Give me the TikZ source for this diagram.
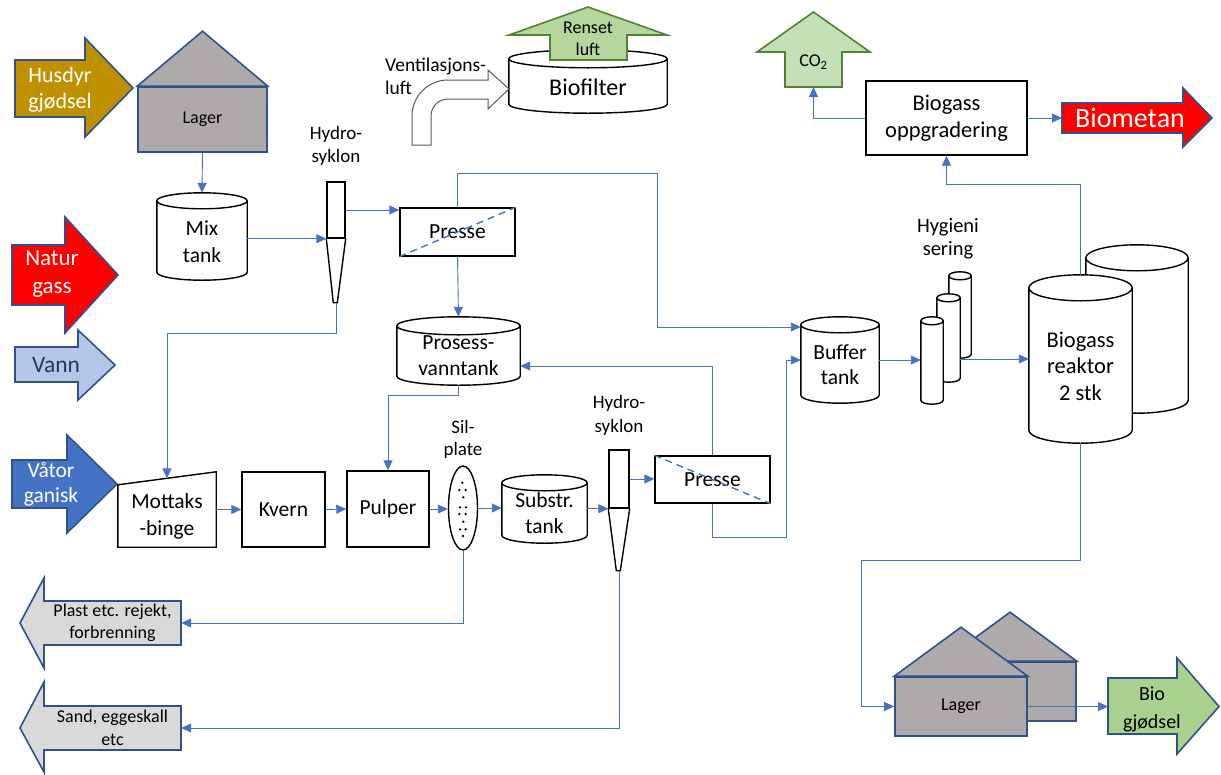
\documentclass[tikz,border=0pt]{standalone}
\usepackage{fontspec}
\setmainfont{Carlito}
\usetikzlibrary{arrows.meta,positioning,calc,backgrounds,shapes.geometric}
\definecolor{edgeblue}{HTML}{2F528F}
\definecolor{flowblue}{HTML}{4472C4}
\definecolor{manure}{HTML}{BF9000}
\definecolor{gasred}{HTML}{FF0000}
\definecolor{waterblue}{HTML}{B4C7E7}
\definecolor{waternavy}{HTML}{1F3864}
\definecolor{organicblue}{HTML}{4472C4}
\definecolor{rejectgray}{HTML}{D9D9D9}
\definecolor{airgreen}{HTML}{B5D69C}
\definecolor{airedge}{HTML}{548235}
\definecolor{co2green}{HTML}{C5E0B4}
\definecolor{fertgreen}{HTML}{A9D18E}
\definecolor{storegray}{HTML}{AEAAAA}
\definecolor{ventgray}{HTML}{595959}
\tikzset{
  stepbox/.style={draw=black, line width=1.4pt, fill=white, align=center, inner sep=0pt},
  tankbox/.style={inner sep=0pt},
  tankline/.style={draw=black, line width=1.4pt, fill=white},
  outline/.style={draw=black, line width=1.4pt},
  house/.style={draw=edgeblue, line width=1.6pt, fill=storegray},
  bigarrow/.style={draw=edgeblue, line width=1.6pt, line join=miter},
  flow/.style={draw=flowblue, line width=0.9pt, -{Triangle[length=10pt,width=9pt]}},
  pressline/.style={draw=flowblue, line width=1.4pt, dash pattern=on 7pt off 5pt},
  txt/.style={align=center, inner sep=0pt, font=\fontsize{21.5}{27}\selectfont},
  labeltxt/.style={align=center, inner sep=0pt, font=\fontsize{18}{23}\selectfont}
}
% cylinder outline round a tank node: name, half height of the end ellipse
\newcommand\tankoutline[2]{%
  \path[tankline] let \p1=(#1.north west), \p2=(#1.south east), \n1={(\x2-\x1)/2} in
    (\x1,\y1-#2pt) -- (\x1,\y2+#2pt)
    arc[start angle=180, end angle=360, x radius=\n1, y radius=#2pt]
    -- (\x2,\y1-#2pt)
    arc[start angle=0, end angle=180, x radius=\n1, y radius=#2pt]
    arc[start angle=180, end angle=360, x radius=\n1, y radius=#2pt];}

\begin{document}
\begin{tikzpicture}[x=1pt, y=-1pt, font=\fontsize{21.5}{27}\selectfont]
  \useasboundingbox (0,0) rectangle (1221,774);

  % tanks
  \node[tankbox, minimum width=90pt, minimum height=87pt] (mix) at (202,236.5) {};
  \node[tankbox, minimum width=123pt, minimum height=68pt] (vanntank) at (458.5,351) {};
  \node[tankbox, minimum width=158pt, minimum height=63pt] (biofilter) at (588,81.5) {};
  \node[tankbox, minimum width=85pt, minimum height=68pt] (substr) at (544.5,509) {};
  \node[tankbox, minimum width=78pt, minimum height=86pt] (buffer) at (840,360) {};
  \node[tankbox, minimum width=22pt, minimum height=86pt] (hyg3) at (960,315) {};
  \node[tankbox, minimum width=23pt, minimum height=88pt] (hyg2) at (948.5,338) {};
  \node[tankbox, minimum width=22pt, minimum height=87pt] (hyg1) at (932,360.5) {};
  \node[tankbox, minimum width=102pt, minimum height=168pt] (reactorB) at (1137,329) {};
  \node[tankbox, minimum width=103pt, minimum height=168pt] (reactor) at (1080.5,359) {};
  \begin{scope}[on background layer]
    \tankoutline{mix}{8}
    \tankoutline{vanntank}{9}
    \tankoutline{biofilter}{9}
    \tankoutline{substr}{8}
    \tankoutline{buffer}{8}
    \tankoutline{hyg3}{4}
    \tankoutline{hyg2}{4}
    \tankoutline{hyg1}{4}
    \tankoutline{reactorB}{13}
    \tankoutline{reactor}{13}
  \end{scope}
  \node[txt] (mix-t) at ($(mix)+(0,5)$) {Mix\\tank};
  \node[txt, font=\fontsize{21.5}{26}\selectfont] (vanntank-t) at ($(vanntank)+(0,4.5)$) {Prosess-\\vanntank};
  \node[txt, font=\fontsize{24}{28}\selectfont] (biofilter-t) at ($(biofilter)+(0,6)$) {Biofilter};
  \node[txt, font=\fontsize{21.5}{26}\selectfont] (substr-t) at ($(substr)+(0,4)$) {Substr.\\tank};
  \node[txt, font=\fontsize{21.5}{25}\selectfont] (buffer-t) at ($(buffer)+(0,5)$) {Buffer\\tank};
  \node[txt, font=\fontsize{22.5}{26.5}\selectfont] (reactor-t) at ($(reactor)+(0,7)$) {Biogass\\reaktor\\2 stk};
  \node[labeltxt, font=\fontsize{20.5}{23}\selectfont] (hyg-t) at (948,239) {Hygieni\\sering};

  % process units
  \node[stepbox, minimum width=18pt, minimum height=56pt] (hc1) at (336,210) {};
  \draw[outline] (hc1.south west) -- ++(7,64) -- ++(4,0) -- (hc1.south east);
  \coordinate (hc1tip) at ($(hc1.south)+(0,64)$);
  \node[labeltxt, font=\fontsize{19}{23}\selectfont] (hc1-t) at (336,146) {Hydro-\\syklon};
  \node[stepbox, minimum width=115pt, minimum height=48pt] (presse1) at (457.5,232) {Presse};
  \draw[pressline] (presse1.south west) -- (presse1.north east);
  \node[txt, minimum width=98pt, minimum height=62pt] (mottak) at (167,516) {Mottaks\\-binge};
  \draw[outline] (mottak.south west) -- (mottak.north west) -- ($(mottak.north east)+(0,-13)$)
    -- (mottak.south east) -- cycle;
  \node[stepbox, minimum width=83pt, minimum height=75pt] (kvern) at (283.5,509.5) {Kvern};
  \node[stepbox, minimum width=82pt, minimum height=76pt] (pulper) at (388,509) {Pulper};
  \node[draw, ellipse, line width=1.4pt, minimum width=29pt, minimum height=84pt, inner sep=0pt] (sil) at (463,508) {};
  \foreach \dx/\dy in {-0.7/-25.3, -3.7/-18, 2.7/-18, 0.3/-10.7, -3/-0.7, 3/-0.7,
                       -3.7/6, 2.7/6, 0.3/13.7, -3/21.3, 2.7/21.3, 0/28}
    \fill ($(sil.center)+(\dx,\dy)$) circle[radius=1.3pt];
  \node[labeltxt, font=\fontsize{19}{22}\selectfont] (sil-t) at (463,439) {Sil-\\plate};
  \node[stepbox, minimum width=20pt, minimum height=58pt] (hc2) at (619,479) {};
  \draw[outline] (hc2.south west) -- ++(8,62) -- ++(4,0) -- (hc2.south east);
  \coordinate (hc2tip) at ($(hc2.south)+(0,62)$);
  \node[labeltxt, font=\fontsize{19}{24}\selectfont] (hc2-t) at (619,415) {Hydro-\\syklon};
  \node[stepbox, minimum width=115pt, minimum height=47pt] (presse2) at (712.5,479.5) {Presse};
  \draw[pressline] (presse2.north west) -- (presse2.south east);
  \node[stepbox, minimum width=161pt, minimum height=74pt, font=\fontsize{22.5}{27}\selectfont] (oppgr) at (946.5,118) {Biogass\\oppgradering};

  % storage houses
  \node[house, minimum width=129pt, minimum height=65pt, inner sep=0pt, font=\fontsize{18}{22}\selectfont] (lagerA) at (202.5,119.5) {Lager};
  \draw[house] (lagerA.north west) -- ($(lagerA.north)+(0,-55)$) -- (lagerA.north east) -- cycle;
  \node[house, minimum width=132pt, minimum height=59pt, inner sep=0pt] (lagerC) at (1010,691.5) {};
  \draw[house] (lagerC.north west) -- ($(lagerC.north)+(0,-49)$) -- (lagerC.north east) -- cycle;
  \node[house, minimum width=132pt, minimum height=59pt, inner sep=0pt, font=\fontsize{18}{22}\selectfont] (lagerB) at (961,706.5) {Lager};
  \draw[house] (lagerB.north west) -- ($(lagerB.north)+(0,-49)$) -- (lagerB.north east) -- cycle;

  % block arrows in and out
  \draw[bigarrow, fill=manure] (15,60) -- (85,60) -- (85,38) -- (133,88) -- (85,137) -- (85,117) -- (15,117) -- cycle;
  \node[txt, text=white, font=\fontsize{22}{26}\selectfont] (husdyr) at (60,90) {Husdyr\\gjødsel};
  \draw[bigarrow, fill=gasred] (12,245) -- (65,245) -- (65,217) -- (118,275) -- (65,333) -- (65,305) -- (12,305) -- cycle;
  \node[txt, text=white, font=\fontsize{23}{28}\selectfont] (natur) at (52,274) {Natur\\gass};
  \draw[bigarrow, fill=waterblue] (15,347) -- (78,347) -- (78,330) -- (115,365) -- (78,400) -- (78,382) -- (15,382) -- cycle;
  \node[txt, text=waternavy, font=\fontsize{23.5}{26}\selectfont] (vann) at (56,365) {Vann};
  \draw[bigarrow, fill=organicblue] (12,460) -- (67,460) -- (67,435) -- (117,484) -- (67,533) -- (67,508) -- (12,508) -- cycle;
  \node[txt, text=white, font=\fontsize{21.5}{25}\selectfont] (vaat) at (51,484) {Våtor\\ganisk};
  \draw[bigarrow, fill=rejectgray] (181,601) -- (44,601) -- (44,578) -- (20,623) -- (44,668) -- (44,645) -- (181,645) -- cycle;
  \node[labeltxt, font=\fontsize{18}{22}\selectfont, minimum width=137pt, minimum height=44pt] (plast) at (112.5,623) {Plast etc. rejekt,\\forbrenning};
  \draw[bigarrow, fill=rejectgray] (181,706) -- (44,706) -- (44,682) -- (20,728) -- (44,772) -- (44,750) -- (181,750) -- cycle;
  \node[labeltxt, font=\fontsize{18}{23}\selectfont, minimum width=137pt, minimum height=44pt] (sand) at (112.5,728) {Sand, eggeskall\\etc};
  \draw[bigarrow, draw=airedge, fill=airgreen] (550,60) -- (550,35) -- (509,35) -- (588,7) -- (667,35) -- (627,35) -- (627,60) -- cycle;
  \node[labeltxt, font=\fontsize{18}{22}\selectfont] (renset) at (588,39) {Renset\\luft};
  \draw[bigarrow, draw=airedge, fill=co2green] (785,87) -- (785,52) -- (757,52) -- (813.5,12) -- (870,52) -- (842,52) -- (842,87) -- cycle;
  \node[labeltxt] (co2) at (813.5,62) {CO\textsubscript{2}};
  \coordinate (co2in) at (813.5,87);
  \draw[bigarrow, fill=gasred] (1062,103) -- (1183,103) -- (1183,88) -- (1212,118) -- (1183,147) -- (1183,133) -- (1062,133) -- cycle;
  \node[txt, text=white, font=\fontsize{28}{32}\selectfont] (biometan) at (1130,118) {Biometan};
  \coordinate (biometanin) at (1062,118);
  \draw[bigarrow, fill=fertgreen] (1108,678) -- (1177,678) -- (1177,658) -- (1219,706.5) -- (1177,754) -- (1177,734) -- (1108,734) -- cycle;
  \node[txt, font=\fontsize{20}{28}\selectfont] (biogj) at (1152,709) {Bio\\gjødsel};
  \coordinate (biogjin) at (1108,706.5);

  % ventilation air
  \draw[draw=ventgray, line width=1pt, fill=white] (412,145) -- (412,116) arc[start angle=180, end angle=90, radius=36pt]
    -- (488,80) -- (488,70) -- (509,89) -- (488,109) -- (488,99) -- (448,99)
    arc[start angle=90, end angle=180, radius=17pt] -- (431,145) -- cycle;
  \node[labeltxt, anchor=west, align=left, font=\fontsize{19.5}{23}\selectfont] (vent) at (385,76.5) {Ventilasjons-\\luft};

  % flows
  \draw[flow] (lagerA.south) -- (mix.north);
  \draw[flow] (mix.east |- hc1.south) -- (hc1.south west);
  \draw[flow] (hc1.east) -- (hc1.east -| presse1.west);
  \draw[flow] (presse1.south) -- (vanntank.north);
  \draw[flow] (presse1.north) -- ++(0,-34) -| ($(buffer.west)+(-143,-33)$) -- ($(buffer.west)+(0,-33)$);
  \draw[flow] (hc1tip) -- ++(0,31) -| ($(mottak.north)+(0,-6.5)$);
  \draw[flow] (mottak.east |- kvern.west) -- (kvern.west);
  \draw[flow] (kvern.east) -- (pulper.west);
  \draw[flow] (vanntank.south) -- ++(0,10) -| (pulper.north);
  \draw[flow] (pulper.east) -- (pulper.east -| sil.west);
  \draw[flow] (sil.east) -- (sil.east -| substr.west);
  \draw[flow] (substr.east |- hc2.south west) -- (hc2.south west);
  \draw[flow] (hc2.east) -- (hc2.east -| presse2.west);
  \draw[flow] (presse2.north) |- ($(vanntank.east)+(0,15)$);
  \draw[flow] (presse2.south) -- ++(0,34) -| ($(buffer.west)+(-14,0)$) -- (buffer.west);
  \draw[flow] (buffer.east) -- (buffer.east -| hyg1.west);
  \draw[flow] (hyg2.east |- reactor.west) -- (reactor.west);
  \draw[flow] (reactor.north) -- ++(0,-90) -| (oppgr.south);
  \draw[flow] (oppgr.west) -| (co2in);
  \draw[flow] (oppgr.east) -- (biometanin);
  \draw[flow] (reactor.south) -- ++(0,117) -| ($(lagerB.west)+(-33,0)$) -- (lagerB.west);
  \draw[flow] (lagerB.east) -- (biogjin);
  \draw[flow] (sil.south) |- (plast.east);
  \draw[flow] (hc2tip) |- (sand.east);
\end{tikzpicture}
\end{document}
